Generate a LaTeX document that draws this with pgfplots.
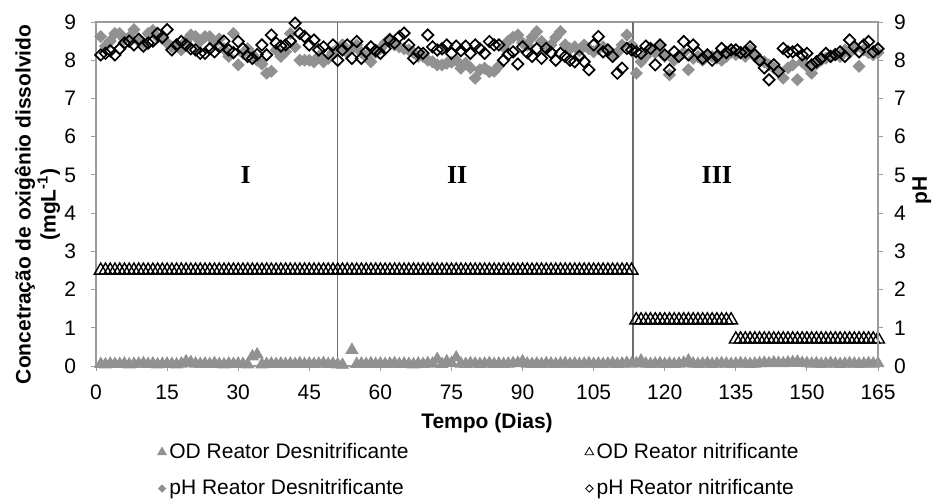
\documentclass[border=0pt]{standalone}
\usepackage{pgfplots}
\usepackage{pgfplotstable}
\pgfplotsset{compat=1.18}
\usepackage{fontspec}
\setmainfont{Liberation Sans}
\newfontfamily\romanfont{Liberation Serif}

\definecolor{mgray}{RGB}{145,145,145}
\definecolor{axgray}{RGB}{155,155,155}
\definecolor{divgray}{RGB}{110,110,110}
\newcommand{\fs}{\fontsize{10.5}{12.5}\selectfont}

% day, OD desnitrificante, OD nitrificante, pH desnitrificante, pH nitrificante
\pgfplotstableread{
day odd odn phd phn
1 0.05 2.5 8.62 8.14
2 0.04 2.5 8.37 8.18
3 0.06 2.5 8.50 8.25
4 0.05 2.5 8.70 8.14
5 0.05 2.5 8.70 8.30
6 0.06 2.5 8.55 8.45
7 0.04 2.5 8.60 8.50
8 0.05 2.5 8.80 8.40
9 0.06 2.5 8.50 8.55
10 0.07 2.5 8.45 8.37
11 0.05 2.5 8.70 8.45
12 0.06 2.5 8.78 8.50
13 0.04 2.5 8.60 8.70
14 0.05 2.5 8.56 8.60
15 0.06 2.5 8.45 8.80
16 0.05 2.5 8.35 8.27
17 0.04 2.5 8.40 8.40
18 0.06 2.5 8.27 8.49
19 0.12 2.5 8.50 8.40
20 0.10 2.5 8.66 8.30
21 0.06 2.5 8.62 8.27
22 0.05 2.5 8.50 8.18
23 0.06 2.5 8.62 8.18
24 0.05 2.5 8.62 8.30
25 0.07 2.5 8.45 8.22
26 0.05 2.5 8.56 8.35
27 0.04 2.5 8.30 8.50
28 0.06 2.5 8.10 8.27
29 0.05 2.5 8.70 8.20
30 0.06 2.5 7.88 8.49
31 0.05 2.5 8.18 8.30
32 0.04 2.5 8.30 8.10
33 0.25 2.5 8.14 8.05
34 0.30 2.5 8.00 8.15
35 0.04 2.5 7.90 8.40
36 0.05 2.5 7.66 8.14
37 0.06 2.5 7.71 8.66
38 0.05 2.5 8.27 8.45
39 0.06 2.5 8.10 8.37
40 0.05 2.5 8.22 8.40
41 0.06 2.5 8.70 8.50
42 0.05 2.5 8.35 8.97
43 0.07 2.5 8.00 8.70
44 0.05 2.5 8.00 8.62
45 0.06 2.5 8.00 8.40
46 0.05 2.5 7.96 8.53
47 0.06 2.5 8.10 8.27
48 0.07 2.5 7.96 8.35
49 0.05 2.5 8.05 8.18
50 0.06 2.5 8.20 8.40
51 0.04 2.5 8.30 8.00
52 0.03 2.5 8.40 8.27
53 nan 2.5 8.20 8.40
54 0.42 2.5 8.30 8.05
55 0.05 2.5 8.40 8.49
56 0.06 2.5 8.20 8.05
57 0.05 2.5 8.10 8.22
58 0.07 2.5 7.96 8.35
59 0.05 2.5 8.20 8.25
60 0.06 2.5 8.30 8.18
61 0.05 2.5 8.45 8.30
62 0.06 2.5 8.56 8.53
63 0.07 2.5 8.40 8.45
64 0.05 2.5 8.35 8.62
65 0.06 2.5 8.30 8.71
66 0.05 2.5 8.27 8.40
67 0.04 2.5 8.20 8.05
68 0.06 2.5 8.10 8.20
69 0.05 2.5 8.10 8.18
70 0.07 2.5 8.00 8.66
71 0.06 2.5 7.96 8.35
72 0.18 2.5 7.88 8.27
73 0.05 2.5 7.88 8.30
74 0.12 2.5 7.92 8.40
75 0.08 2.5 7.95 8.18
76 0.22 2.5 8.00 8.37
77 0.06 2.5 7.79 8.25
78 0.05 2.5 7.92 8.37
79 0.07 2.5 7.80 8.18
80 0.06 2.5 7.53 8.40
81 0.05 2.5 7.75 8.30
82 0.06 2.5 7.79 8.18
83 0.07 2.5 7.70 8.49
84 0.05 2.5 7.71 8.40
85 0.06 2.5 7.85 8.40
86 0.05 2.5 8.35 8.00
87 0.06 2.5 8.50 8.15
88 0.07 2.5 8.60 8.22
89 0.08 2.5 8.66 7.90
90 0.12 2.5 8.45 8.35
91 0.06 2.5 8.40 8.20
92 0.05 2.5 8.60 8.10
93 0.06 2.5 8.75 8.30
94 0.05 2.5 8.49 8.05
95 0.07 2.5 8.30 8.31
96 0.06 2.5 8.40 8.20
97 0.05 2.5 8.60 8.00
98 0.06 2.5 8.75 8.18
99 0.07 2.5 8.40 8.10
100 0.05 2.5 8.30 8.00
101 0.06 2.5 8.35 7.96
102 0.05 2.5 8.25 8.10
103 0.06 2.5 8.40 7.96
104 0.07 2.5 8.30 7.75
105 0.05 2.5 8.22 8.40
106 0.06 2.5 8.30 8.62
107 0.05 2.5 8.35 8.22
108 0.06 2.5 8.25 8.27
109 0.07 2.5 8.10 8.10
110 0.05 2.5 8.20 7.66
111 0.06 2.5 8.40 7.79
112 0.08 2.5 8.66 8.31
113 0.06 2.5 8.40 8.27
114 0.07 1.2 7.66 8.22
115 0.14 1.2 7.96 8.18
116 0.06 1.2 8.10 8.37
117 0.05 1.2 8.30 8.31
118 0.06 1.2 8.20 7.88
119 0.07 1.2 8.40 8.40
120 0.05 1.2 8.10 8.14
121 0.06 1.2 7.62 7.75
122 0.05 1.2 8.00 8.22
123 0.06 1.2 8.10 8.10
124 0.08 1.2 8.20 8.49
125 0.14 1.2 7.75 8.14
126 0.06 1.2 8.05 8.40
127 0.05 1.2 8.10 8.20
128 0.06 1.2 8.00 8.05
129 0.07 1.2 8.14 8.14
130 0.05 1.2 8.10 8.00
131 0.06 1.2 8.05 8.10
132 0.07 1.2 8.00 8.31
133 0.06 1.2 8.10 8.20
134 0.05 1.2 8.20 8.27
135 0.06 0.7 8.15 8.27
136 0.07 0.7 8.20 8.20
137 0.06 0.7 8.10 8.22
138 0.05 0.7 8.27 8.35
139 0.06 0.7 8.10 8.14
140 0.07 0.7 8.00 8.00
141 0.08 0.7 7.96 7.80
142 0.07 0.7 7.88 7.49
143 0.09 0.7 7.80 7.88
144 0.08 0.7 7.70 7.71
145 0.07 0.7 7.53 8.31
146 0.09 0.7 7.80 8.22
147 0.10 0.7 7.88 8.22
148 0.11 0.7 7.49 8.27
149 0.08 0.7 7.95 8.14
150 0.07 0.7 7.84 8.18
151 0.06 0.7 7.66 7.88
152 0.07 0.7 7.90 7.96
153 0.05 0.7 8.00 8.05
154 0.06 0.7 8.05 8.18
155 0.07 0.7 8.10 8.10
156 0.06 0.7 8.15 8.15
157 0.05 0.7 8.10 8.22
158 0.06 0.7 8.27 8.10
159 0.07 0.7 8.20 8.53
160 0.06 0.7 8.30 8.35
161 0.05 0.7 7.84 8.22
162 0.06 0.7 8.27 8.40
163 0.07 0.7 8.20 8.49
164 0.06 0.7 8.14 8.22
165 0.07 0.7 8.20 8.30
}\datatable

\pgfplotsset{
  common/.style={
    at={(48pt,66.5pt)}, anchor=south west,
    scale only axis, width=391pt, height=172pt,
    xmin=0, xmax=165, ymin=0, ymax=9,
    ytick={0,1,...,9},
    tick align=outside, major tick length=2.5pt,
    every tick/.style={axgray, line width=0.5pt},
    axis line style={axgray, line width=0.6pt},
    tick label style={font=\fs, /pgf/number format/assume math mode=true},
    clip=false,
  },
}

\begin{document}
\begin{tikzpicture}
\useasboundingbox (0,0) rectangle (467.5pt,249.5pt);

% primary axis: dissolved oxygen
\begin{axis}[
  common,
  xtick={0,15,...,165},
  xtick pos=left, ytick pos=left,
  xticklabel style={yshift=-3.5pt},
  yticklabel style={xshift=-4pt},
  xlabel={Tempo (Dias)},
  every axis x label/.style={at={(axis description cs:0.5,-0.1657)}, anchor=center, font=\fs\bfseries},
  ylabel={Concetração de oxigênio dissolvido\\(mgL\textsuperscript{-1})},
  every axis y label/.style={at={(axis description cs:-0.0748,0.47)}, anchor=center, rotate=90, align=center, font={\fontsize{10.5}{12.5}\selectfont\bfseries}},
]
% phase boundaries
\addplot[divgray, line width=0.6pt, no marks, forget plot] coordinates {(51,0) (51,9)};
\addplot[divgray, line width=0.6pt, no marks, forget plot] coordinates {(113.3,0) (113.3,9)};

\addplot[only marks, mark=triangle*, mark size=3.4pt, color=mgray, mark options={fill=mgray, draw=mgray}]
  table[x=day, y=odd] {\datatable};
\addplot[only marks, mark=triangle, mark size=3.7pt, color=black, line width=0.7pt]
  table[x=day, y=odn] {\datatable};

\node[font=\romanfont\bfseries\fontsize{13}{15}\selectfont] at (axis cs:31.6,5) {I};
\node[font=\romanfont\bfseries\fontsize{13}{15}\selectfont] at (axis cs:76.2,5) {II};
\node[font=\romanfont\bfseries\fontsize{13}{15}\selectfont] at (axis cs:131,5) {III};
\end{axis}

% secondary axis: pH
\begin{axis}[
  common,
  hide x axis,
  axis y line*=right,
  yticklabel style={xshift=2pt},
  ylabel={pH},
  every axis y label/.style={at={(axis description cs:1.056,0.51)}, anchor=center, rotate=90, font=\fs\bfseries},
  legend columns=2,
  legend cell align=left,
  legend image code/.code={\draw[#1] plot coordinates {(0pt,0pt)};},
  legend style={
    draw=none, fill=none, font=\fs,
    at={(axis description cs:0.0789,-0.2157)}, anchor=north west,
    inner sep=0pt, outer sep=0pt,
    nodes={inner sep=1.5pt},
    row sep=6pt,
    /tikz/every even column/.append style={column sep=86.7pt},
  },
]
\addlegendimage{mark=triangle*, mark size=2.5pt, mgray, mark options={fill=mgray, draw=mgray}}
\addlegendentry{OD Reator Desnitrificante}
\addlegendimage{mark=triangle, mark size=2.5pt, black, line width=0.4pt}
\addlegendentry{OD Reator nitrificante}
\addlegendimage{mark=square*, mark size=1.3pt, mgray, mark options={rotate=45, fill=mgray, draw=mgray}}
\addlegendentry{pH Reator Desnitrificante}
\addlegendimage{mark=square, mark size=1.3pt, black, line width=0.4pt, mark options={rotate=45}}
\addlegendentry{pH Reator nitrificante}

\addplot[only marks, mark=square*, mark size=2.1pt, color=mgray, mark options={rotate=45, fill=mgray, draw=mgray}, forget plot]
  table[x=day, y=phd] {\datatable};
\addplot[only marks, mark=square, mark size=2.0pt, color=black, line width=0.85pt, mark options={rotate=45}, forget plot]
  table[x=day, y=phn] {\datatable};
\end{axis}
\end{tikzpicture}
\end{document}
